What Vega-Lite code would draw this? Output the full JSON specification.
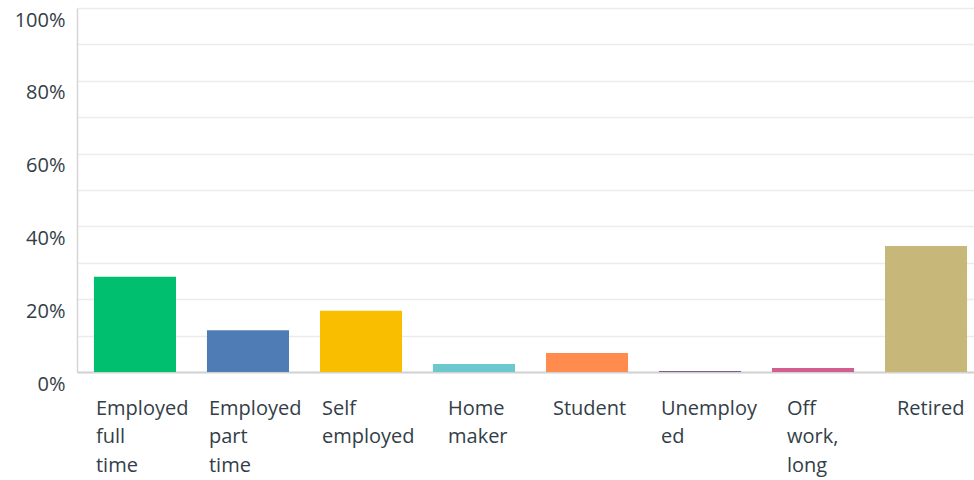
{
  "$schema": "https://vega.github.io/schema/vega-lite/v6.json",
  "autosize": "none",
  "padding": {"left": 77, "top": 8, "right": 0, "bottom": 108},
  "width": 897,
  "height": 364,
  "background": "white",
  "view": {"stroke": null},
  "config": {
    "font": "Open Sans",
    "axis": {"labelFont": "Open Sans", "labelColor": "#333e48", "labelFontSize": 20}
  },
  "data": {
    "values": [
      {"status": "Employed full time", "share": 0.262},
      {"status": "Employed part time", "share": 0.115},
      {"status": "Self employed", "share": 0.168},
      {"status": "Home maker", "share": 0.022},
      {"status": "Student", "share": 0.052},
      {"status": "Unemployed", "share": 0.003},
      {"status": "Off work, long", "share": 0.011},
      {"status": "Retired", "share": 0.346}
    ]
  },
  "mark": {"type": "bar"},
  "encoding": {
    "x": {
      "field": "status",
      "type": "nominal",
      "sort": null,
      "scale": {"paddingInner": 0.274, "paddingOuter": 0.15, "range": [0, 907]},
      "axis": {
        "title": null,
        "labelAngle": 0,
        "labelAlign": "left",
        "labelBaseline": "alphabetic",
        "labelPadding": 42,
        "labelLineHeight": 28.5,
        "labelLimit": 0,
        "labelExpr": "datum.label == 'Unemployed' ? ['Unemploy', 'ed'] : split(datum.label, ' ')",
        "labelOffset": {
          "condition": [
            {"test": "datum.value == 'Home maker'", "value": -26},
            {"test": "datum.value == 'Student'", "value": -34},
            {"test": "datum.value == 'Off work, long'", "value": -26},
            {"test": "datum.value == 'Retired'", "value": -29}
          ],
          "value": -39
        },
        "ticks": false,
        "domainColor": "#d2d2d2",
        "domainWidth": 2,
        "grid": false
      }
    },
    "y": {
      "field": "share",
      "type": "quantitative",
      "scale": {"domain": [0, 1], "nice": false},
      "axis": {
        "title": null,
        "values": [0, 0.1, 0.2, 0.3, 0.4, 0.5, 0.6, 0.7, 0.8, 0.9, 1],
        "format": ".0%",
        "labelExpr": "round(datum.value * 100) % 20 == 0 ? datum.label : ''",
        "labelFlush": false,
        "labelBaseline": "middle",
        "labelOffset": 12,
        "labelPadding": 12,
        "ticks": false,
        "domainColor": "#d6d6d6",
        "domainWidth": 1.5,
        "grid": true,
        "gridColor": "#ececec",
        "gridWidth": 1.5
      }
    },
    "color": {
      "field": "status",
      "type": "nominal",
      "legend": null,
      "scale": {
        "domain": ["Employed full time", "Employed part time", "Self employed", "Home maker", "Student", "Unemployed", "Off work, long", "Retired"],
        "range": ["#00bf6f", "#507cb6", "#f9be00", "#6bc8cd", "#ff8b4f", "#7d5e90", "#d25f90", "#c7b879"]
      }
    }
  }
}
